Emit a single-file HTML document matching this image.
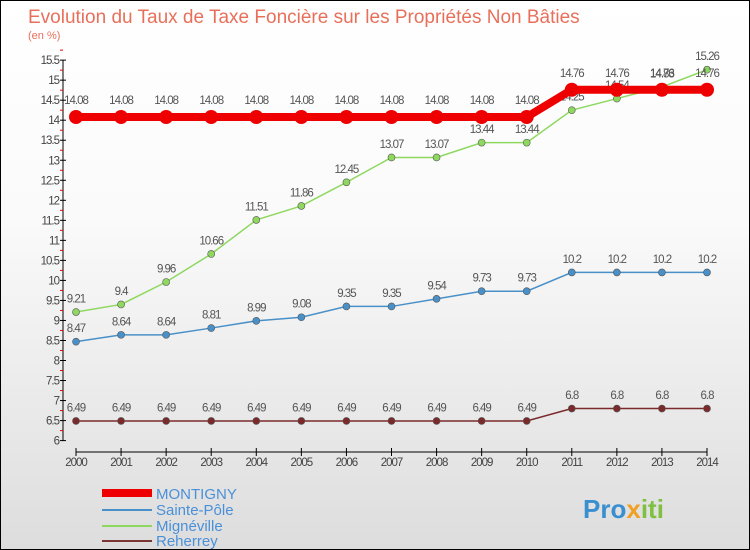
<!DOCTYPE html>
<html><head><meta charset="utf-8"><style>
body{margin:0}
#c{position:relative;width:748px;height:548px;border:1px solid #000;background:linear-gradient(#fff,#fafafa 40%,#ddd);font-family:"Liberation Sans",sans-serif;overflow:hidden}
</style></head><body>
<div id="c">
<svg width="748" height="548" id="s">
<text x="27" y="22" font-size="19" fill="#e8705a">Evolution du Taux de Taxe Foncière sur les Propriétés Non Bâties</text>
<text x="27" y="38" font-size="11" fill="#e8705a">(en %)</text>
<g id="g"></g>
<g>
<rect x="101" y="488" width="50" height="8" fill="#e00"/>
<text x="155" y="498" font-size="15" fill="#4a90d9">MONTIGNY</text>
<line x1="101" y1="509" x2="151" y2="509" stroke="#4a90c8" stroke-width="2"/>
<text x="155" y="514" font-size="15" fill="#4a90d9">Sainte-Pôle</text>
<line x1="101" y1="525" x2="151" y2="525" stroke="#8fd860" stroke-width="2"/>
<text x="155" y="530" font-size="15" fill="#4a90d9">Mignéville</text>
<line x1="101" y1="540" x2="151" y2="540" stroke="#7a3535" stroke-width="2"/>
<text x="155" y="545" font-size="15" fill="#4a90d9">Reherrey</text>
</g>
<text x="582" y="517" font-size="26" font-weight="bold" fill="#3a8fd0">Pro<tspan fill="#f0a020">x</tspan><tspan fill="#80c040">iti</tspan></text>
</svg>
</div>
<script>
const years=[2000,2001,2002,2003,2004,2005,2006,2007,2008,2009,2010,2011,2012,2013,2014];
const montigny=[14.08,14.08,14.08,14.08,14.08,14.08,14.08,14.08,14.08,14.08,14.08,14.76,14.76,14.76,14.76];
const saintePole=[8.47,8.64,8.64,8.81,8.99,9.08,9.35,9.35,9.54,9.73,9.73,10.2,10.2,10.2,10.2];
const migneville=[9.21,9.4,9.96,10.66,11.51,11.86,12.45,13.07,13.07,13.44,13.44,14.25,14.54,14.83,15.26];
const reherrey=[6.49,6.49,6.49,6.49,6.49,6.49,6.49,6.49,6.49,6.49,6.49,6.8,6.8,6.8,6.8];
const yTicks=[6,6.5,7,7.5,8,8.5,9,9.5,10,10.5,11,11.5,12,12.5,13,13.5,14,14.5,15,15.5];
const X=i=>75+i*(631/14), Y=v=>439.6-(v-6)*40.05;
const g=document.getElementById('g'),NS='http://www.w3.org/2000/svg';
function mk(t,a,n){const e=document.createElementNS(NS,t);for(const k in a)e.setAttribute(k,a[k]);


g.appendChild(e);return e;}
mk('line',{x1:62,y1:Y(15.5),x2:62,y2:Y(6),stroke:'#000'},'y-axis');
yTicks.forEach(v=>{mk('line',{x1:59,x2:65,y1:Y(v),y2:Y(v),stroke:'#000'},'y-tick');
mk('line',{x1:59,x2:62,y1:Y(v+0.25),y2:Y(v+0.25),stroke:'#e00'},'y-minor-tick');
const t=mk('text',{x:58,y:Y(v)+4,'font-size':11.5,'text-anchor':'end',fill:'#444','letter-spacing':'-1'},'y-tick-label');t.textContent=v;});
mk('line',{x1:X(0),x2:X(14),y1:451,y2:451,stroke:'#000'},'x-axis');
years.forEach((y,i)=>{mk('line',{x1:X(i),x2:X(i),y1:447,y2:455,stroke:'#000'},'x-tick');
const t=mk('text',{x:X(i),y:465,'font-size':11.5,'text-anchor':'middle',fill:'#444','letter-spacing':'-1'},'x-tick-label');t.textContent=y;});
function series(d,col,w,r,name){
mk('polyline',{points:d.map((v,i)=>X(i)+','+Y(v)).join(' '),fill:'none',stroke:col,'stroke-width':w},name+'-line');
d.forEach((v,i)=>{mk('circle',{cx:X(i),cy:Y(v),r:r,fill:col,stroke:r<6?'#555':'none','stroke-width':0.6},name+'-point');
const t=mk('text',{x:X(i),y:Y(v)-(r+6),'font-size':11.5,'text-anchor':'middle',fill:'#555','letter-spacing':'-1'},name+'-value-label');t.textContent=v;});}
series(reherrey,'#7a2a2a',1.5,3.5,'reherrey');
series(saintePole,'#4a90c8',1.5,3.5,'sainte-pole');
series(migneville,'#8fd860',1.5,3.5,'migneville');
series(montigny,'#e00',8,7,'montigny');
</script>
</body></html>
